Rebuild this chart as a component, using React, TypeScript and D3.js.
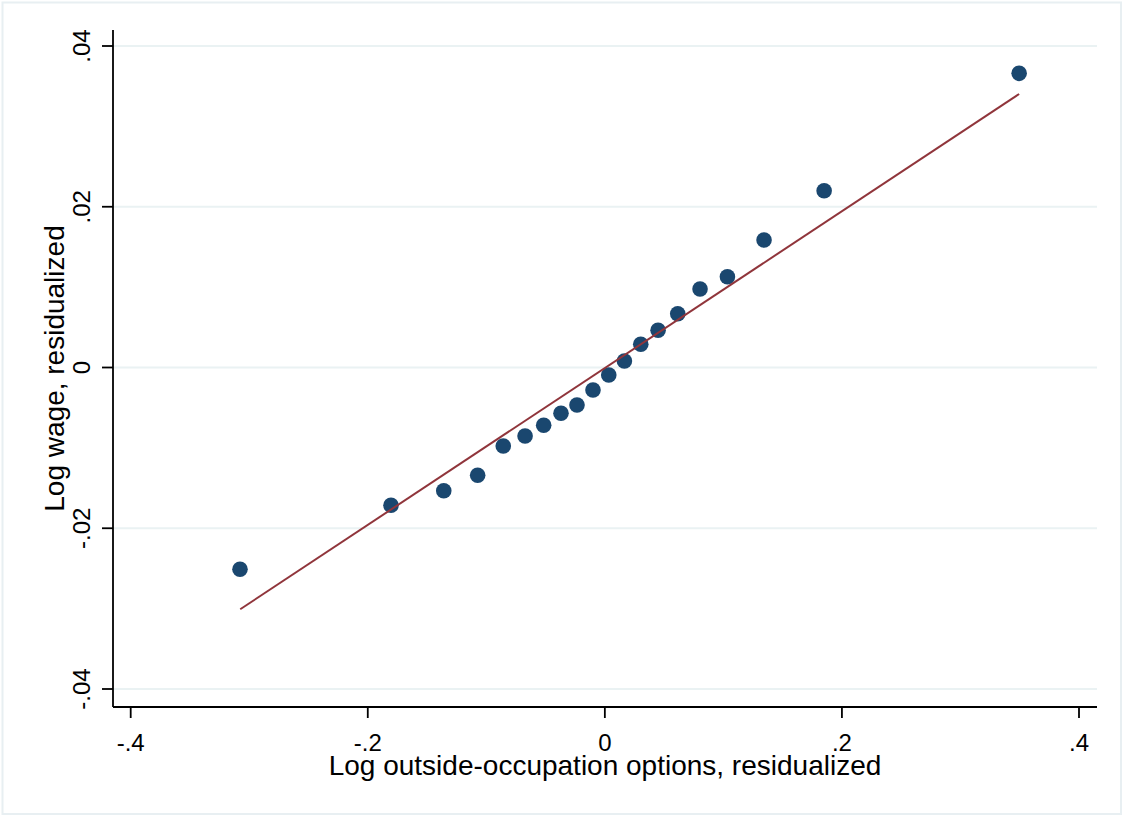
import React from "react";
import * as d3 from "d3";

const xValues = [-0.3078, -0.1804, -0.1359, -0.1073, -0.0857, -0.0673, -0.0516, -0.037, -0.0235, -0.01, 0.0033, 0.0165, 0.0303, 0.0449, 0.0615, 0.0803, 0.1034, 0.1343, 0.185, 0.3495];
const yValues = [-0.02511, -0.01714, -0.01533, -0.01341, -0.00977, -0.00852, -0.00719, -0.0057, -0.00467, -0.0028, -0.00093, 0.00081, 0.00289, 0.00463, 0.00669, 0.00977, 0.0113, 0.01586, 0.022, 0.0366];
const fitX = [-0.3076, 0.3495];
const fitY = [-0.03008, 0.03403];
const xTicks = [-0.4, -0.2, 0, 0.2, 0.4];
const xTickLabels = ["-.4", "-.2", "0", ".2", ".4"];
const yTicks = [-0.04, -0.02, 0, 0.02, 0.04];
const yTickLabels = ["-.04", "-.02", "0", ".02", ".04"];
const xTitle = "Log outside-occupation options, residualized";
const yTitle = "Log wage, residualized";

const W = 1125;
const H = 817;
const FONT = "'Liberation Sans', Arial, sans-serif";

export default function App() {
  const x = d3.scaleLinear().domain([-0.4, 0.4]).range([130.7, 1079]);
  const y = d3.scaleLinear().domain([-0.04, 0.04]).range([689, 46]);
  const left = 113;
  const right = 1097;
  const top = 30;
  const bottom = 707;
  const line = d3
    .line<number>()
    .x((_, i) => x(fitX[i]))
    .y((d) => y(d));
  const pts = xValues.map((v, i) => ({ x: v, y: yValues[i] }));

  return (
    <svg
      width={W}
      height={H}
      style={{ position: "absolute", left: 0, top: 0, background: "#fff" }}
      fontFamily={FONT}
    >
      <rect x={0} y={0} width={W} height={H} fill="#fff" />
      <rect x={2.5} y={2.5} width={1118.5} height={811.5} fill="none" stroke="#e8eff2" strokeWidth={2} />
      {yTicks.map((t) => (
        <line key={"g" + t} x1={left} x2={right} y1={y(t)} y2={y(t)} stroke="#eaf2f3" strokeWidth={2} />
      ))}
      {/* axes */}
      <line x1={left} x2={left} y1={top} y2={bottom} stroke="#000" strokeWidth={1.8} />
      <line x1={left} x2={right} y1={bottom} y2={bottom} stroke="#000" strokeWidth={1.8} />
      {yTicks.map((t, i) => (
        <g key={"yt" + t}>
          <line x1={left - 11} x2={left} y1={y(t)} y2={y(t)} stroke="#000" strokeWidth={1.8} />
          <text
            transform={`translate(90,${y(t)}) rotate(-90)`}
            textAnchor="middle"
            fontSize={24}
            fill="#000"
          >
            {yTickLabels[i]}
          </text>
        </g>
      ))}
      {xTicks.map((t, i) => (
        <g key={"xt" + t}>
          <line x1={x(t)} x2={x(t)} y1={bottom} y2={bottom + 11} stroke="#000" strokeWidth={1.8} />
          <text x={x(t)} y={751} textAnchor="middle" fontSize={24} fill="#000">
            {xTickLabels[i]}
          </text>
        </g>
      ))}
      <text x={(left + right) / 2} y={775} textAnchor="middle" fontSize={28} fill="#000">
        {xTitle}
      </text>
      <text
        transform={`translate(64,${(top + bottom) / 2}) rotate(-90)`}
        textAnchor="middle"
        fontSize={28}
        fill="#000"
      >
        {yTitle}
      </text>
      {pts.map((p, i) => (
        <circle key={"p" + i} cx={x(p.x)} cy={y(p.y)} r={7.8} fill="#1a476f" />
      ))}
      <path d={line(fitY) || ""} fill="none" stroke="#90353b" strokeWidth={2} />
    </svg>
  );
}
